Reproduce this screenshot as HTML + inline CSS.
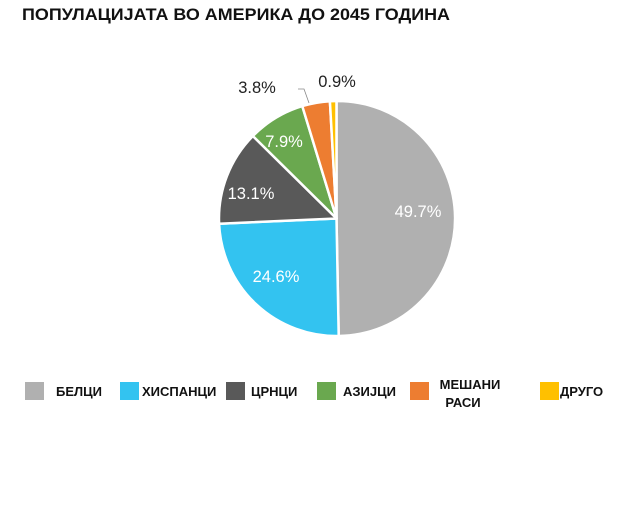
<!DOCTYPE html>
<html><head><meta charset="utf-8"><style>
body{margin:0;background:#fff;}
svg{display:block}
</style></head><body>
<svg width="634" height="519" xmlns="http://www.w3.org/2000/svg" font-family="Liberation Sans, sans-serif">
<rect width="634" height="519" fill="#fff"/>
<text x="22" y="20" font-size="17" font-weight="bold" fill="#111" textLength="428" lengthAdjust="spacingAndGlyphs">ПОПУЛАЦИЈАТА ВО АМЕРИКА ДО 2045 ГОДИНА</text>
<g stroke="#fff" stroke-width="2.5" stroke-linejoin="round">
<path d="M336.5,218.5 L336.5,101 A117.5,117.5 0 0 1 338.7,336 Z" fill="#b0b0b0"/>
<path d="M336.5,218.5 L338.7,336 A117.5,117.5 0 0 1 219.1,223.7 Z" fill="#33c3f0"/>
<path d="M336.5,218.5 L219.1,223.7 A117.5,117.5 0 0 1 252.9,136 Z" fill="#595959"/>
<path d="M336.5,218.5 L252.9,136 A117.5,117.5 0 0 1 302.3,106.1 Z" fill="#6aa84f"/>
<path d="M336.5,218.5 L302.3,106.1 A117.5,117.5 0 0 1 329.9,101.2 Z" fill="#ed7d31"/>
<path d="M336.5,218.5 L329.9,101.2 A117.5,117.5 0 0 1 336.5,101 Z" fill="#ffc000"/>
</g>
<polyline points="298,89 304,89 309,103" fill="none" stroke="#888" stroke-width="0.8"/>
<g font-size="16.5" fill="#fff" text-anchor="middle">
<text x="418" y="217">49.7%</text>
<text x="276" y="282">24.6%</text>
<text x="251" y="199">13.1%</text>
<text x="284" y="147">7.9%</text>
</g>
<g font-size="16.5" fill="#222" text-anchor="middle">
<text x="257" y="93">3.8%</text>
<text x="337" y="87">0.9%</text>
</g>
<g>
<rect x="25" y="382" width="19" height="18" fill="#b0b0b0"/>
<rect x="120" y="382" width="19" height="18" fill="#33c3f0"/>
<rect x="226" y="382" width="19" height="18" fill="#595959"/>
<rect x="317" y="382" width="19" height="18" fill="#6aa84f"/>
<rect x="410" y="382" width="19" height="18" fill="#ed7d31"/>
<rect x="540" y="382" width="19" height="18" fill="#ffc000"/>
</g>
<g font-size="13" font-weight="bold" fill="#111">
<text x="56" y="396">БЕЛЦИ</text>
<text x="142" y="396">ХИСПАНЦИ</text>
<text x="251" y="396">ЦРНЦИ</text>
<text x="343" y="396">АЗИЈЦИ</text>
<text x="470" y="389" text-anchor="middle">МЕШАНИ</text>
<text x="463" y="407" text-anchor="middle">РАСИ</text>
<text x="560" y="396">ДРУГО</text>
</g>
</svg>
</body></html>
